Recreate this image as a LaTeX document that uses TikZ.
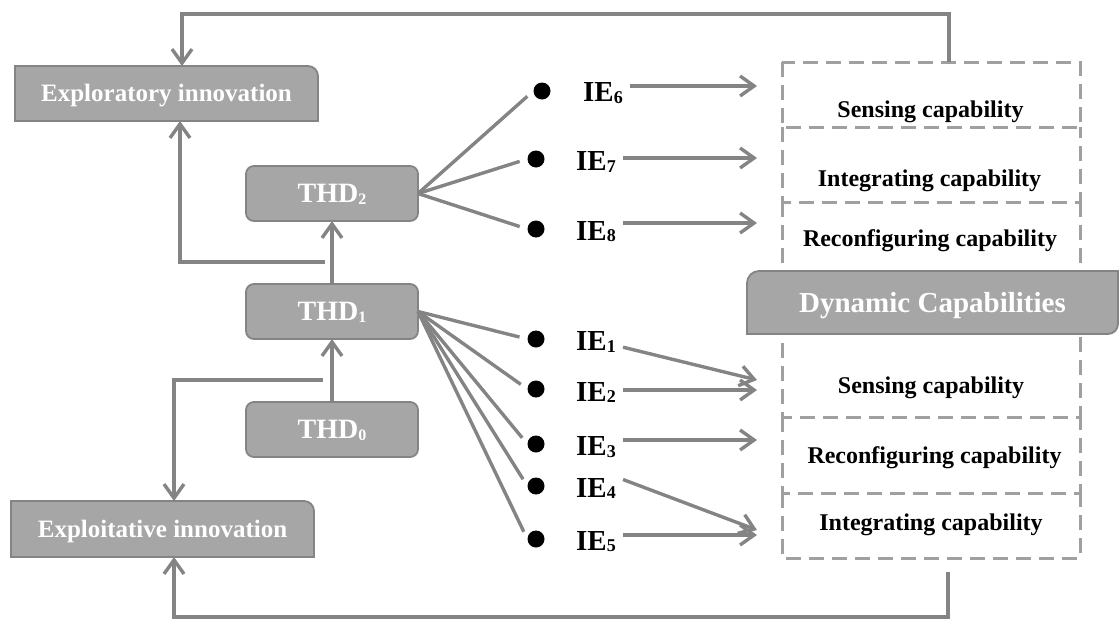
\documentclass[tikz,border=0pt]{standalone}
\usepackage{fontspec}
\setmainfont{Liberation Serif}
\usetikzlibrary{arrows.meta,backgrounds}

\definecolor{boxfill}{RGB}{166,166,166}
\definecolor{boxline}{RGB}{132,132,132}
\definecolor{lineclr}{RGB}{132,132,132}
\definecolor{dashclr}{RGB}{160,160,160}

\newcommand{\lowsub}[2]{\raisebox{-1.5pt}{\fontsize{#2}{#2}\selectfont #1}}

\tikzset{
  conn/.style={draw=lineclr, line width=3.4pt},
  arr/.style={-{Straight Barb[length=14pt,width=20pt]}},
  thdbox/.style={fill=boxfill, draw=boxline, line width=1.8pt, rounded corners=8pt,
    minimum width=172pt, minimum height=55pt, outer sep=0pt, text=white,
    text height=18.5pt, text depth=0pt, font=\bfseries\fontsize{28}{30}\selectfont},
  innobox/.style={minimum width=303pt, minimum height=55pt, outer sep=0pt, text=white,
    text height=16.5pt, text depth=0pt, font=\bfseries\fontsize{25}{27}\selectfont},
  ielbl/.style={anchor=west, inner sep=0pt, text height=19pt, text depth=0pt,
    font=\bfseries\fontsize{29}{31}\selectfont},
  iedot/.style={circle, fill=black, minimum size=17pt, inner sep=0pt},
  capbox/.style={minimum width=298pt, outer sep=0pt},
  dashline/.style={draw=dashclr, line width=3pt, dash pattern=on 15pt off 8pt},
  captext/.style={anchor=base, inner sep=0pt, font=\bfseries\fontsize{24}{26}\selectfont},
}

\begin{document}
\begin{tikzpicture}[x=1pt,y=-1pt]
\useasboundingbox (0,0) rectangle (1120,619);

% innovation boxes
\node[innobox] (exr) at (166.5,93.5) {Exploratory innovation};
\node[innobox, minimum height=56pt] (exp) at (162.5,529) {Exploitative innovation};

% THD
\node[thdbox] (thd2) at (332,193.5) {THD\lowsub{2}{16}};
\node[thdbox] (thd1) at (332,311.5) {THD\lowsub{1}{16}};
\node[thdbox] (thd0) at (332,429.5) {THD\lowsub{0}{16}};

% capability boxes
\node[capbox, minimum height=65pt] (cb1) at (931,94.5) {};
\node[capbox, minimum height=75pt] (cb2) at (931,164.5) {};
\node[capbox, minimum height=78pt] (cb3) at (931,241) {};
\node[capbox, minimum height=97pt] (cb4) at (931,368.5) {};
\node[capbox, minimum height=76pt] (cb5) at (931,455) {};
\node[capbox, minimum height=65pt] (cb6) at (931,525.5) {};

\draw[dashline] (cb1.north west) rectangle (cb1.south east);
\draw[dashline] (cb2.north west) -- (cb2.south west) -- (cb2.south east) -- (cb2.north east);
\draw[dashline] (cb3.north west) -- (cb3.south west);
\draw[dashline] (cb3.north east) -- (cb3.south east);
\draw[dashline] (cb4.north west) -- (cb4.south west) -- (cb4.south east) -- (cb4.north east);
\draw[dashline] (cb5.north west) -- (cb5.south west) -- (cb5.south east) -- (cb5.north east);
\draw[dashline] (cb6.north west) -- (cb6.south west) -- (cb6.south east) -- (cb6.north east);

\node[captext] (sen1) at (930.5,117) {Sensing capability};
\node[captext] (int1) at (929.5,186) {Integrating capability};
\node[captext] (rec1) at (930,246) {Reconfiguring capability};
\node[captext] (sen2) at (931,393) {Sensing capability};
\node[captext] (rec2) at (934.5,463) {Reconfiguring capability};
\node[captext] (int2) at (931,530) {Integrating capability};

\node[minimum width=371pt, minimum height=63pt, outer sep=0pt] (dyn) at (932.5,302.5) {};
\filldraw[fill=boxfill, draw=boxline, line width=1.8pt]
  (dyn.north east) -- ([xshift=12pt]dyn.north west)
  arc[start angle=90, end angle=180, radius=12pt] -- (dyn.south west)
  -- ([xshift=-10pt]dyn.south east) arc[start angle=270, end angle=360, radius=10pt] -- cycle;
\node[text=white, font=\bfseries\fontsize{29}{31}\selectfont, anchor=base, inner sep=0pt]
  (dyntext) at (932.5,312) {Dynamic Capabilities};

\begin{scope}[on background layer]
  \filldraw[fill=boxfill, draw=boxline, line width=1.8pt]
    (exr.south west) -- (exr.north west) -- ([xshift=-10pt]exr.north east)
    arc[start angle=90, end angle=0, radius=10pt] -- (exr.south east) -- cycle;
  \filldraw[fill=boxfill, draw=boxline, line width=1.8pt]
    (exp.south west) -- (exp.north west) -- ([xshift=-10pt]exp.north east)
    arc[start angle=90, end angle=0, radius=10pt] -- (exp.south east) -- cycle;
\end{scope}

% dots and labels
\node[iedot] (d6) at (542,91) {};
\node[iedot] (d7) at (536,159) {};
\node[iedot] (d8) at (536,229) {};
\node[iedot] (d1) at (536,339) {};
\node[iedot] (d2) at (536,389) {};
\node[iedot] (d3) at (536,444) {};
\node[iedot] (d4) at (536,486) {};
\node[iedot] (d5) at (536,539) {};

\node[ielbl] (ie6) at (583,92.2) {IE\lowsub{6}{18}};
\node[ielbl] (ie7) at (576,161.2) {IE\lowsub{7}{18}};
\node[ielbl] (ie8) at (576,230.5) {IE\lowsub{8}{18}};
\node[ielbl] (ie1) at (576,341.2) {IE\lowsub{1}{18}};
\node[ielbl] (ie2) at (576,391.5) {IE\lowsub{2}{18}};
\node[ielbl] (ie3) at (576,446.2) {IE\lowsub{3}{18}};
\node[ielbl] (ie4) at (576,487.5) {IE\lowsub{4}{18}};
\node[ielbl] (ie5) at (576,540.5) {IE\lowsub{5}{18}};

% arrow ends at the capability boxes
\coordinate (in6) at (757,86);
\coordinate (in7) at (757,158);
\coordinate (in8) at (757,223);
\coordinate (in1) at (757,380);
\coordinate (in2) at (757,390);
\coordinate (in3) at (757,440);
\coordinate (in4) at (757,530);
\coordinate (in5) at (757,535);

% THD chain
\draw[conn,arr] (thd0) -- (thd1);
\draw[conn,arr] (thd1) -- (thd2);
\draw[conn,arr] ([xshift=-7pt,yshift=22pt]thd1.north) -| ([xshift=13.5pt]exr.south);
\draw[conn,arr] ([xshift=-9pt,yshift=22pt]thd0.north) -| ([xshift=11.5pt]exp.north);

% fans
\foreach \d in {d6,d7,d8}
  \draw[conn, shorten >=8pt] (thd2.east) -- (\d.west);
\foreach \d in {d1,d2,d3,d4,d5}
  \draw[conn, shorten >=8pt] (thd1.east) -- (\d.west);

% IE to capabilities
\foreach \i in {6,7,8,2,3,5}
  \draw[conn,arr] ([xshift=7pt]ie\i.east |- in\i) -- (in\i);
\draw[conn,arr] ([xshift=7pt,yshift=-6pt]ie1.east) -- (in1);
\draw[conn,arr] ([xshift=7pt,yshift=8pt]ie4.east) -- (in4);

% feedback
\draw[conn,arr] ([xshift=18pt]cb1.north) -- ++(0,-48) -| ([xshift=15.5pt]exr.north);
\draw[conn,arr] ([xshift=17pt,yshift=-14pt]cb6.south) -- ++(0,45) -| ([xshift=11.5pt]exp.south);
\end{tikzpicture}
\end{document}
